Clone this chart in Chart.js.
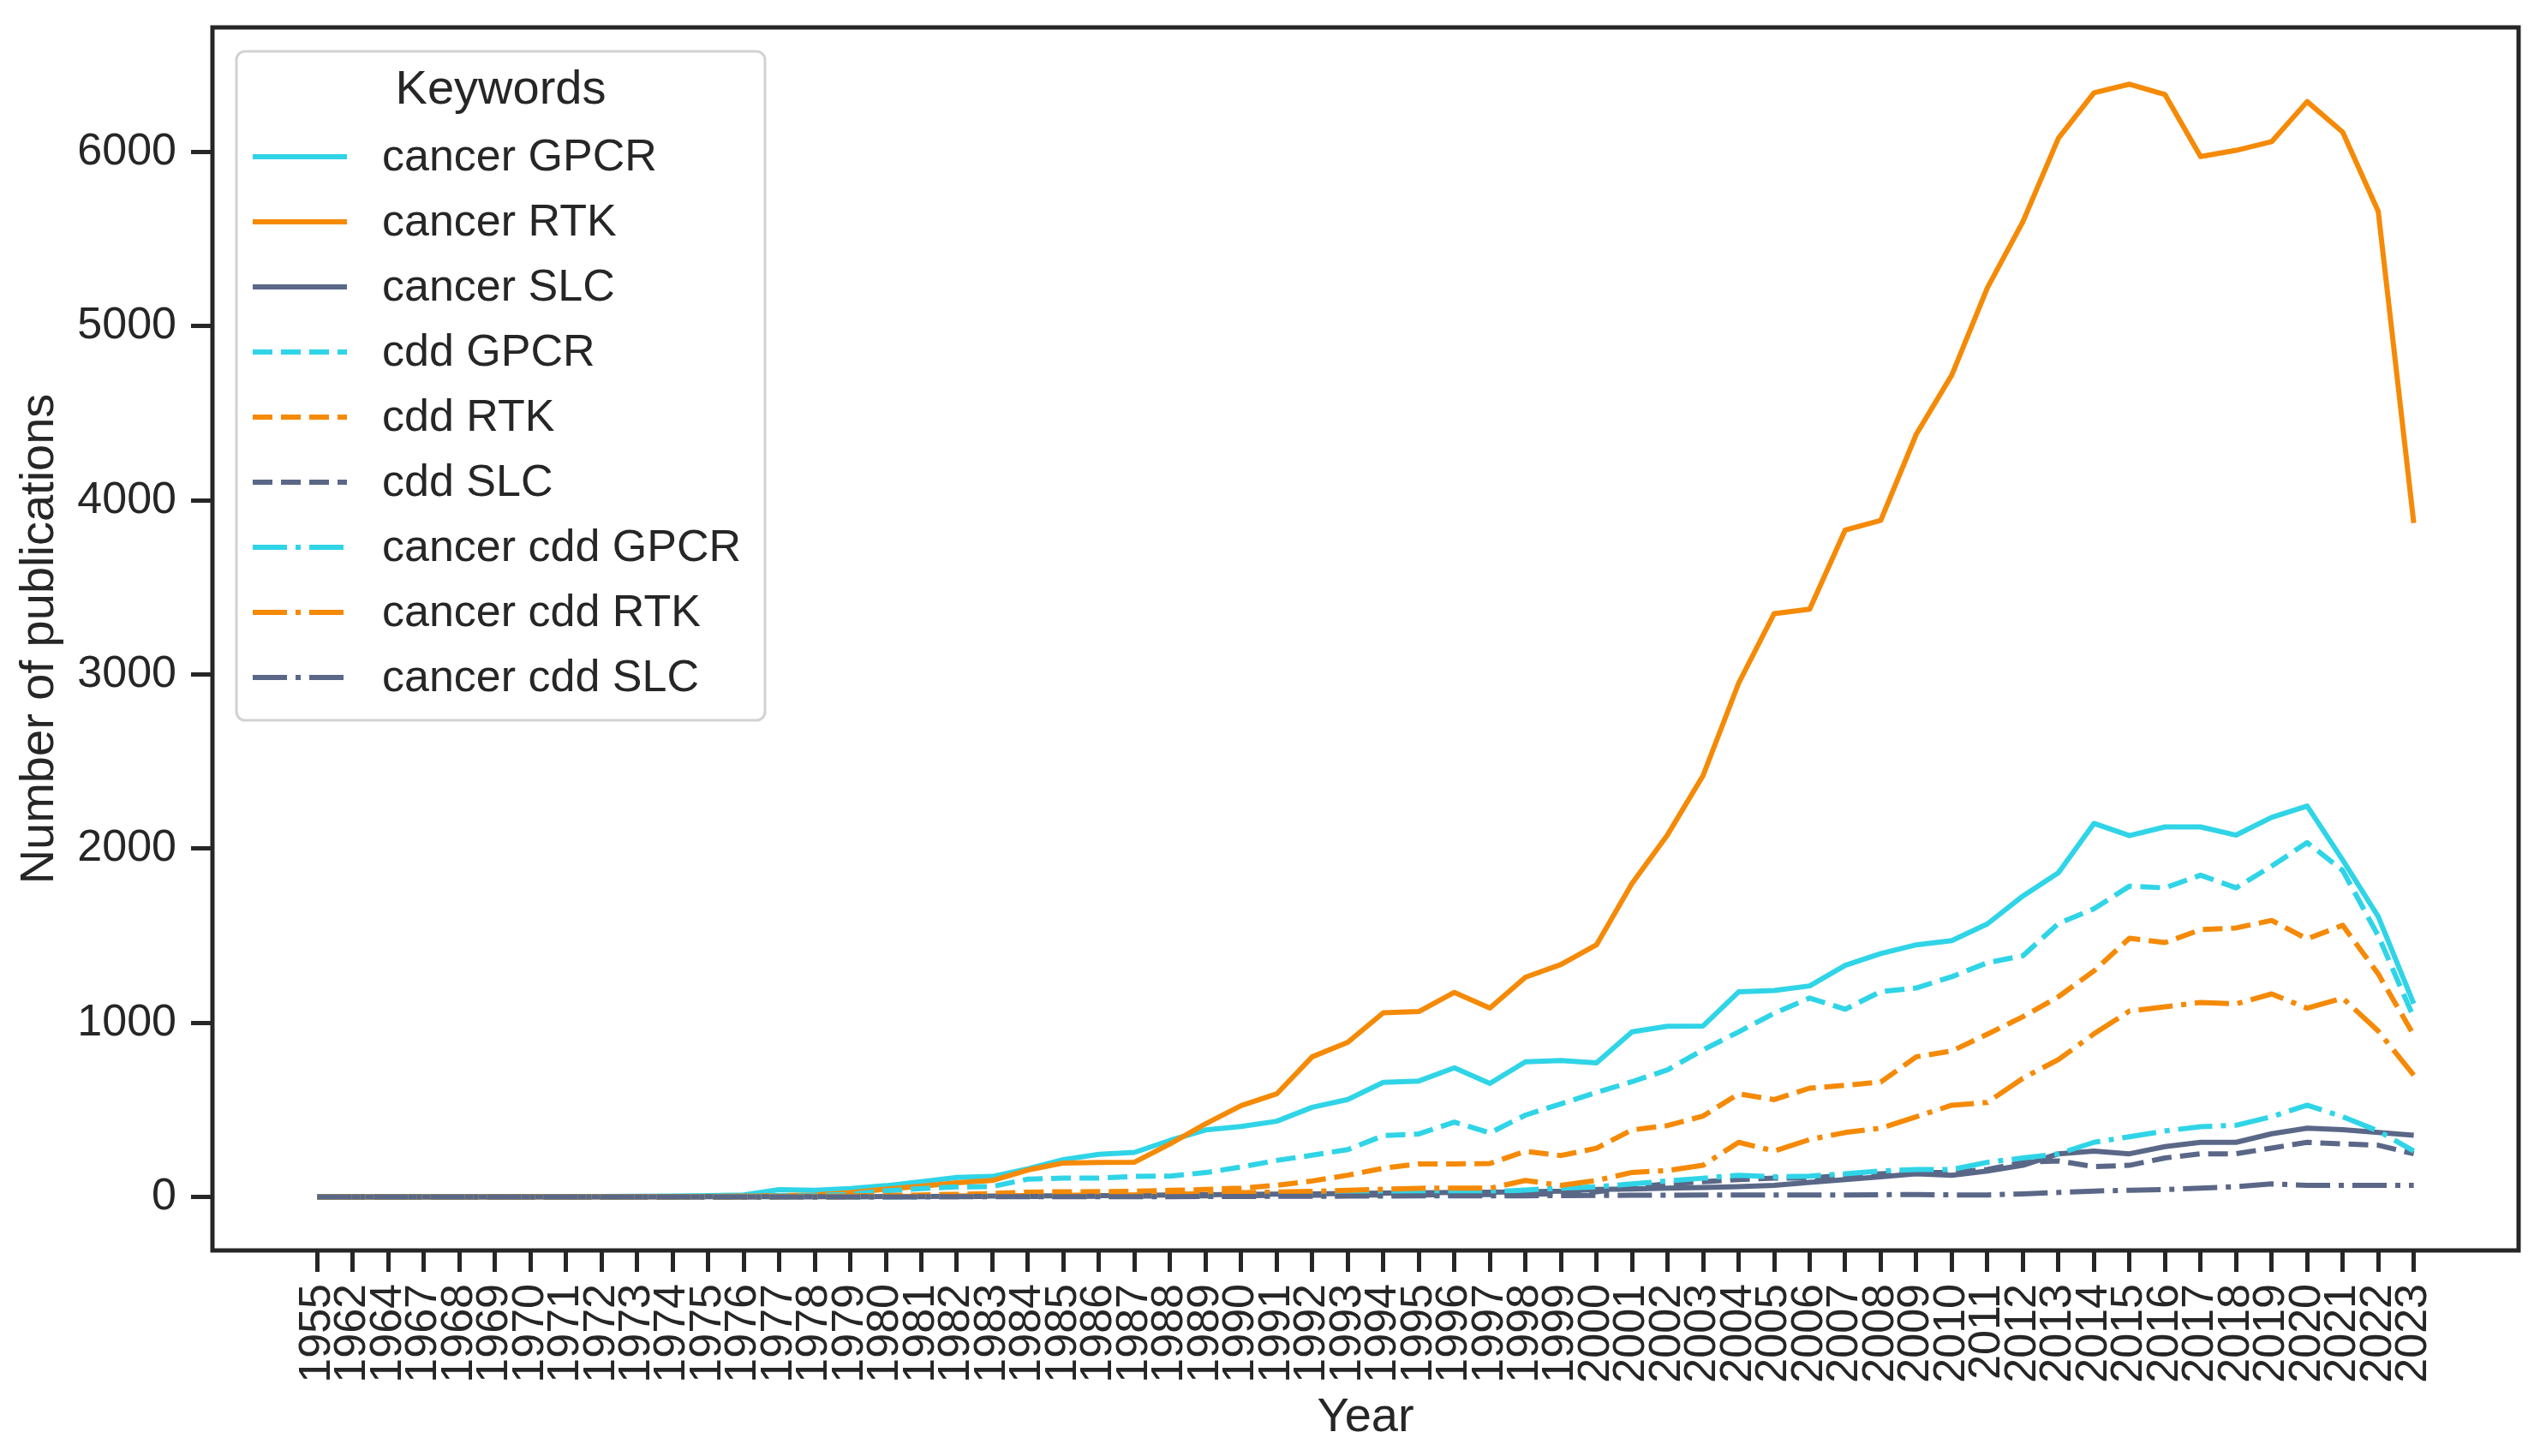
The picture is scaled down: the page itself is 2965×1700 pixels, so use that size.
<!DOCTYPE html>
<html>
<head>
<meta charset="utf-8">
<script src="https://cdn.jsdelivr.net/npm/chart.js@4"></script>
<style>
  html, body { margin: 0; padding: 0; background: #fff; }
  #wrap { width: 2965px; height: 1700px; }
</style>
</head>
<body>
<div id="wrap"><canvas id="pubChart"></canvas></div>
<script>
  // years on the x axis (categories)
  const years = [1955, 1962, 1964, 1967, 1968, 1969, 1970, 1971, 1972, 1973, 1974, 1975,
    1976, 1977, 1978, 1979, 1980, 1981, 1982, 1983, 1984, 1985, 1986, 1987, 1988, 1989,
    1990, 1991, 1992, 1993, 1994, 1995, 1996, 1997, 1998, 1999, 2000, 2001, 2002, 2003,
    2004, 2005, 2006, 2007, 2008, 2009, 2010, 2011, 2012, 2013, 2014, 2015, 2016, 2017,
    2018, 2019, 2020, 2021, 2022, 2023];

  // number of publications per keyword
  const cancerGPCR = [1, 0, 1, 1, 2, 2, 3, 2, 3, 4, 5, 8, 12, 42, 38, 48, 65, 88, 112, 118,
    162, 215, 245, 256, 325, 385, 405, 435, 515, 560, 658, 666, 742, 652, 776, 783, 770, 948,
    980, 982, 1178, 1186, 1212, 1330, 1398, 1448, 1472, 1568, 1728, 1862, 2145, 2075, 2125,
    2125, 2078, 2180, 2245, 1935, 1610, 1110];
  const cancerRTK = [0, 0, 0, 0, 0, 1, 1, 1, 1, 2, 2, 3, 5, 8, 12, 25, 45, 62, 82, 95, 155,
    195, 198, 200, 305, 420, 525, 592, 805, 888, 1058, 1065, 1175, 1085, 1262, 1335, 1448,
    1800, 2080, 2420, 2950, 3350, 3375, 3830, 3885, 4380, 4720, 5220, 5600, 6080, 6340, 6390,
    6330, 5975, 6010, 6060, 6290, 6115, 5660, 3870];
  const cancerSLC = [0, 0, 0, 0, 0, 0, 0, 0, 0, 0, 0, 1, 1, 1, 2, 2, 3, 3, 4, 5, 6, 7, 8, 9,
    11, 13, 15, 16, 18, 20, 22, 24, 26, 27, 30, 34, 43, 46, 51, 54, 59, 67, 84, 100, 116, 133,
    125, 149, 182, 248, 264, 248, 289, 314, 314, 363, 395, 387, 371, 355];
  const cddGPCR = [0, 0, 0, 0, 0, 0, 1, 1, 1, 1, 2, 2, 4, 6, 10, 15, 35, 48, 58, 60, 103, 108,
    108, 118, 120, 140, 172, 210, 240, 272, 352, 362, 430, 368, 470, 535, 600, 662, 730, 845,
    948, 1055, 1142, 1078, 1180, 1200, 1265, 1345, 1385, 1570, 1655, 1785, 1775, 1848, 1775,
    1900, 2035, 1875, 1500, 1030];
  const cddRTK = [0, 0, 0, 0, 0, 0, 0, 0, 0, 1, 1, 1, 2, 3, 4, 6, 8, 12, 15, 20, 28, 30, 31,
    33, 38, 43, 51, 67, 92, 125, 165, 190, 190, 192, 262, 238, 280, 385, 410, 465, 592, 559,
    625, 641, 660, 805, 838, 935, 1035, 1150, 1298, 1486, 1461, 1535, 1545, 1588, 1482, 1560,
    1281, 930];
  const cddSLC = [0, 0, 0, 0, 0, 0, 0, 0, 0, 0, 0, 0, 0, 1, 1, 1, 2, 2, 2, 3, 3, 4, 4, 5, 6, 7,
    8, 9, 10, 11, 12, 12, 13, 14, 16, 18, 30, 55, 75, 88, 100, 108, 108, 125, 133, 141, 141,
    158, 199, 207, 174, 182, 224, 248, 248, 281, 314, 305, 297, 248];
  const cancerCddGPCR = [0, 0, 0, 0, 0, 0, 0, 0, 0, 0, 0, 0, 0, 1, 1, 1, 2, 2, 3, 3, 4, 5, 6,
    7, 9, 12, 15, 17, 20, 22, 25, 28, 32, 30, 40, 51, 59, 75, 92, 108, 125, 116, 120, 133, 149,
    158, 158, 199, 224, 248, 314, 346, 379, 404, 412, 461, 527, 461, 379, 264];
  const cancerCddRTK = [0, 0, 0, 0, 0, 0, 0, 0, 0, 0, 0, 0, 0, 1, 1, 2, 3, 4, 5, 6, 8, 10, 11,
    12, 15, 20, 25, 28, 32, 38, 45, 50, 51, 50, 95, 67, 95, 141, 152, 182, 314, 264, 330, 370,
    395, 461, 527, 543, 682, 789, 937, 1068, 1092, 1117, 1109, 1166, 1084, 1142, 953, 699];
  const cancerCddSLC = [0, 0, 0, 0, 0, 0, 0, 0, 0, 0, 0, 0, 0, 0, 0, 0, 0, 1, 1, 1, 1, 2, 2,
    2, 2, 3, 3, 4, 4, 5, 5, 6, 6, 7, 7, 8, 9, 10, 10, 11, 11, 12, 12, 12, 13, 14, 12, 12, 18,
    26, 34, 39, 43, 51, 59, 75, 67, 67, 67, 67];

  const yTicks = [0, 1000, 2000, 3000, 4000, 5000, 6000];

  const CYAN = '#30d4e7';
  const ORANGE = '#f58a07';
  const SLATE = '#5a6787';
  const INK = '#262626';
  const FONT = "'Liberation Sans', Arial, sans-serif";

  const LW = 6;
  const SOLID = [];
  const DASHED = [23, 10];
  const DASHDOT = [40, 10, 6, 10];

  const series = [
    ['cancer GPCR', cancerGPCR, CYAN, SOLID],
    ['cancer RTK', cancerRTK, ORANGE, SOLID],
    ['cancer SLC', cancerSLC, SLATE, SOLID],
    ['cdd GPCR', cddGPCR, CYAN, DASHED],
    ['cdd RTK', cddRTK, ORANGE, DASHED],
    ['cdd SLC', cddSLC, SLATE, DASHED],
    ['cancer cdd GPCR', cancerCddGPCR, CYAN, DASHDOT],
    ['cancer cdd RTK', cancerCddRTK, ORANGE, DASHDOT],
    ['cancer cdd SLC', cancerCddSLC, SLATE, DASHDOT],
  ];

  const datasets = series.map(([label, values, color, dash], i) => ({
    label: label,
    data: values.map((v, j) => ({x: j, y: v})),
    borderColor: color,
    backgroundColor: color,
    borderWidth: LW,
    borderDash: dash,
    borderJoinStyle: 'round',
    pointRadius: 0,
    fill: false,
    tension: 0,
    order: -i   // later series drawn on top, like the original
  }));

  // box around the plot area and the "Keywords" legend
  const frameAndLegend = {
    id: 'frameAndLegend',
    afterDatasetsDraw(chart) {
      const {ctx, chartArea: a} = chart;
      ctx.save();
      ctx.strokeStyle = INK;
      ctx.lineWidth = 5;
      ctx.strokeRect(a.left, a.top, a.right - a.left, a.bottom - a.top);
      ctx.restore();
    },
    afterDraw(chart) {
      const ctx = chart.ctx;
      const bx = 276, by = 60, bw = 617, bh = 781;
      ctx.save();
      ctx.beginPath();
      ctx.roundRect(bx, by, bw, bh, 10);
      ctx.fillStyle = 'rgba(255,255,255,0.85)';
      ctx.fill();
      ctx.lineWidth = 3;
      ctx.strokeStyle = '#d2d2d2';
      ctx.stroke();

      ctx.fillStyle = INK;
      ctx.textBaseline = 'middle';
      ctx.textAlign = 'center';
      ctx.font = '56px ' + FONT;
      ctx.fillText('Keywords', bx + bw / 2, 106);

      ctx.textAlign = 'left';
      ctx.font = '52px ' + FONT;
      chart.data.datasets.forEach((ds, i) => {
        const y = 183 + i * 76;
        ctx.beginPath();
        ctx.setLineDash(ds.borderDash);
        ctx.lineWidth = ds.borderWidth;
        ctx.strokeStyle = ds.borderColor;
        ctx.moveTo(295, y);
        ctx.lineTo(405, y);
        ctx.stroke();
        ctx.setLineDash([]);
        ctx.fillStyle = INK;
        ctx.fillText(ds.label, 446, y + 2);
      });
      ctx.restore();
    }
  };

  new Chart('pubChart', {
    type: 'line',
    data: {datasets: datasets},
    plugins: [frameAndLegend],
    options: {
      responsive: true,
      maintainAspectRatio: false,
      devicePixelRatio: 1,
      animation: false,
      layout: {padding: {left: 0, right: 25, top: 32, bottom: 0}},
      plugins: {
        legend: {display: false},
        tooltip: {enabled: false}
      },
      scales: {
        x: {
          type: 'linear',
          min: -2.95,
          max: years.length - 1 + 2.95,
          afterBuildTicks(scale) {
            scale.ticks = years.map((y, i) => ({value: i}));
          },
          afterFit(scale) {
            scale.height = 240;
            scale.paddingLeft = 0;
            scale.paddingRight = 0;
          },
          ticks: {
            autoSkip: false,
            minRotation: 90,
            maxRotation: 90,
            padding: 14,
            color: INK,
            font: {family: FONT, size: 52},
            callback: (v) => years[v]
          },
          grid: {
            drawOnChartArea: false,
            drawTicks: true,
            tickLength: 25,
            tickWidth: 5,
            tickColor: INK
          },
          border: {display: false},
          title: {
            display: true,
            text: 'Year',
            color: INK,
            font: {family: FONT, size: 56},
            padding: {top: 0, bottom: 11}
          }
        },
        y: {
          min: -307,
          max: 6716,
          afterBuildTicks(scale) {
            scale.ticks = yTicks.map((v) => ({value: v}));
          },
          afterFit(scale) {
            scale.width = 248;
            scale.paddingTop = 0;
            scale.paddingBottom = 0;
          },
          ticks: {
            padding: 17,
            color: INK,
            font: {family: FONT, size: 52},
            callback: (v) => String(v)
          },
          grid: {
            drawOnChartArea: false,
            drawTicks: true,
            tickLength: 25,
            tickWidth: 5,
            tickColor: INK
          },
          border: {display: false},
          title: {
            display: true,
            text: 'Number of publications',
            color: INK,
            font: {family: FONT, size: 56},
            padding: {top: 13, bottom: 0}
          }
        }
      }
    }
  });
</script>
</body>
</html>
